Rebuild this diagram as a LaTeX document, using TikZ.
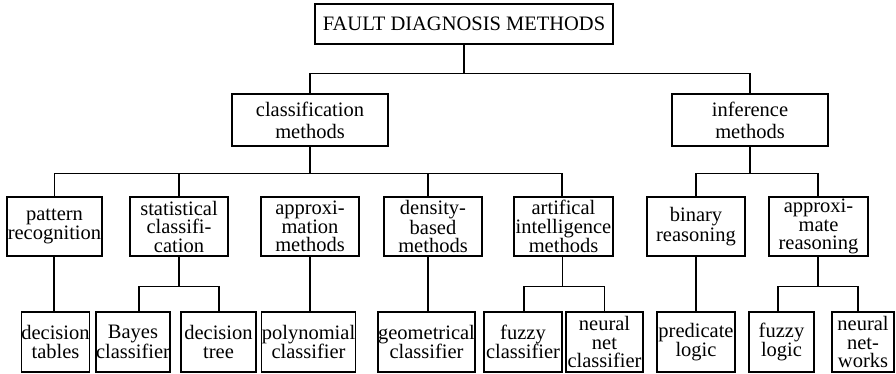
\documentclass[tikz,border=0pt]{standalone}
\usepackage{fontspec}
\setmainfont{Liberation Serif}
\begin{document}
\begin{tikzpicture}[x=1pt,y=-1pt,
  box/.style={draw, line width=1.3pt, inner sep=0pt, align=center,
    font={\fontsize{20.5}{19.5}\selectfont}},
  tbox/.style={box, font={\fontsize{20.5}{18.5}\selectfont}},
  topbox/.style={box, line width=2.6pt, font={\fontsize{20.5}{22}\selectfont}},
  conn/.style={line width=1.2pt}]
\useasboundingbox (0,0) rectangle (896,374);
% level 0
\node[topbox, minimum width=298pt, minimum height=40pt] (root) at (464,24) {FAULT DIAGNOSIS METHODS};
% level 1
\node[topbox, minimum width=156pt, minimum height=52pt] (cls) at (310,120) {classification\\methods};
\node[topbox, minimum width=156pt, minimum height=52pt] (inf) at (750,120) {inference\\methods};
% level 2
\node[box,  minimum width=95pt, minimum height=59pt] (pat) at (54.5,226.5) {pattern\\recognition};
\node[tbox, minimum width=98pt, minimum height=59pt] (sta) at (179,226.5) {statistical\\classifi-\\cation};
\node[tbox, minimum width=98pt, minimum height=59pt] (apm) at (310,226.5) {approxi-\\mation\\methods};
\node[tbox, minimum width=98pt, minimum height=59pt] (den) at (433,226.5) {density-\\based\\methods};
\node[tbox, minimum width=99pt, minimum height=59pt] (ai)  at (563.5,226.5) {artifical\\intelligence\\methods};
\node[box,  minimum width=98pt, minimum height=59pt] (bin) at (696,226.5) {binary\\reasoning};
\node[tbox, minimum width=99pt, minimum height=59pt] (apr) at (818.5,226.5) {approxi-\\mate\\reasoning};
% level 3
\node[box,  minimum width=65pt, minimum height=60pt] (dtab) at (55.5,342) {decision\\tables};
\node[box,  minimum width=68pt, minimum height=60pt] (bay)  at (133,342) {Bayes\\classifier};
\node[box,  minimum width=75pt, minimum height=60pt] (dtre) at (218.5,342) {decision\\tree};
\node[box,  minimum width=87pt, minimum height=60pt] (poly) at (308.5,342) {polynomial\\classifier};
\node[box,  minimum width=90pt, minimum height=60pt] (geo)  at (426.5,342) {geometrical\\classifier};
\node[box,  minimum width=78pt, minimum height=60pt] (fzc)  at (523,342) {fuzzy\\classifier};
\node[tbox, minimum width=77pt, minimum height=60pt] (nnc)  at (604.5,342) {neural\\net\\classifier};
\node[box,  minimum width=78pt, minimum height=60pt] (pred) at (696,342) {predicate\\logic};
\node[box,  minimum width=65pt, minimum height=60pt] (fzl)  at (781.5,342) {fuzzy\\logic};
\node[tbox, minimum width=62pt, minimum height=60pt] (nnw)  at (863,342) {neural\\net-\\works};
% connectors level 0 -> 1
\draw[conn] (root.south) -- ++(0,28) coordinate (b0);
\draw[conn] (cls.north) |- (b0) -| (inf.north);
% level 1 -> 2
\draw[conn] (cls.south) -- ++(0,26) coordinate (b1);
\draw[conn] (pat.north) |- (b1);
\draw[conn] (b1) -| ([xshift=-1.5pt]ai.north);
\draw[conn] (sta.north) -- (sta.north |- b1);
\draw[conn] ([xshift=-5pt]den.north) -- ([xshift=-5pt]den.north |- b1);
\draw[conn] (inf.south) -- ++(0,26) coordinate (b2);
\draw[conn] (bin.north) |- (b2) -| ([xshift=-0.5pt]apr.north);
% level 2 -> 3
\draw[conn] ([xshift=-0.5pt]pat.south) -- ([xshift=-0.5pt]pat.south |- dtab.north);
\draw[conn] (apm.south) -- (apm.south |- poly.north);
\draw[conn] ([xshift=-5pt]den.south) -- ([xshift=-5pt]den.south |- geo.north);
\draw[conn] (bin.south) -- (pred.north);
\draw[conn] (sta.south) -- ++(0,30) coordinate (b3);
\draw[conn] ([xshift=6pt]bay.north) |- (b3) -| ([xshift=0.5pt]dtre.north);
\draw[conn] ([xshift=-1pt]ai.south) -- ++(0,30) coordinate (b4);
\draw[conn] ([xshift=1pt]fzc.north) |- (b4) -| (nnc.north);
\draw[conn] ([xshift=-0.5pt]apr.south) -- ++(0,30) coordinate (b5);
\draw[conn] ([xshift=-3.5pt]fzl.north) |- (b5) -| ([xshift=-5pt]nnw.north);
\end{tikzpicture}
\end{document}
